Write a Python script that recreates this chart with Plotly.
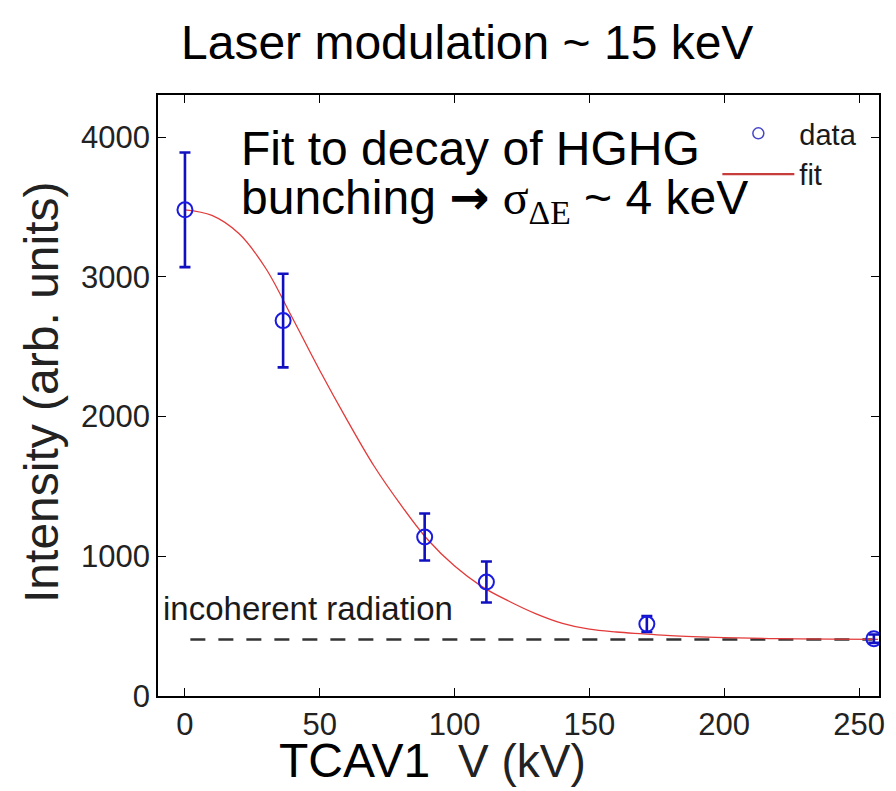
import plotly.graph_objects as go

# ---- data ----
tcav_kv = [0, 36.4, 88.9, 111.8, 171.3, 255.5]
intensity = [3480, 2687, 1138, 816, 515, 410]
intensity_err = [410, 335, 168, 147, 57, 30]

fit_x = [0, 10, 20, 30, 40, 50, 60, 70, 80, 90, 100, 110, 120, 130, 140, 150,
         160, 170, 180, 200, 220, 240, 257]
fit_y = [3480, 3440, 3310, 3060, 2700, 2330, 1980, 1650, 1370, 1120, 930, 785,
         680, 590, 520, 478, 458, 445, 432, 418, 410, 407, 405]

incoherent_x = [2, 255]
incoherent_y = [405, 405]

x_ticks = [0, 50, 100, 150, 200, 250]
y_ticks = [0, 1000, 2000, 3000, 4000]

# ---- layout helpers (pixel -> paper) ----
L, R, T, B = 158, 885, 95, 696
W, H = 896, 791
def px(x):
    return (x - L) / (R - L)
def py(y):
    return (B - y) / (B - T)

SANS = "Liberation Sans, Arial, sans-serif"

fig = go.Figure()

fig.add_trace(go.Scatter(
    x=incoherent_x, y=incoherent_y, mode="lines",
    line=dict(color="#333333", width=2.5, dash="15px,13px"),
    showlegend=False, hoverinfo="skip"))

fig.add_trace(go.Scatter(
    x=fit_x, y=fit_y, mode="lines", name="fit",
    line=dict(color="#e23a3a", width=1.3, shape="spline", smoothing=1.0),
    showlegend=False))

fig.add_trace(go.Scatter(
    x=tcav_kv, y=intensity, mode="markers", name="data",
    marker=dict(symbol="circle-open", size=15, color="#1a1ae0",
                line=dict(width=2, color="#1a1ae0")),
    error_y=dict(type="data", array=intensity_err, visible=True,
                 color="#1010c0", thickness=2.6, width=5.5),
    showlegend=False))

# legend-only entries
fig.add_trace(go.Scatter(
    x=[None], y=[None], mode="markers", name="data",
    marker=dict(symbol="circle-open", size=11, color="#4646c8",
                line=dict(width=1.5, color="#4646c8"))))
fig.add_trace(go.Scatter(
    x=[None], y=[None], mode="lines", name="fit",
    line=dict(color="#c83c3c", width=2.2)))

annotations = [
    dict(text="Laser modulation ~ 15 keV", x=px(470), y=py(42),
         xref="paper", yref="paper", xanchor="center", yanchor="middle",
         font=dict(size=48, color="black", family=SANS), showarrow=False),
    dict(text="Fit to decay of HGHG", x=px(240), y=py(148),
         xref="paper", yref="paper", xanchor="left", yanchor="middle",
         font=dict(size=48, color="black", family=SANS), showarrow=False),
    dict(text="bunching <span style='font-family:DejaVu Sans;font-weight:bold'>\u2192</span> "
              "<span style='font-family:Liberation Serif'>\u03c3<sub>\u0394E</sub></span> ~ 4 keV",
         x=px(240), y=py(200),
         xref="paper", yref="paper", xanchor="left", yanchor="middle",
         font=dict(size=48, color="black", family=SANS), showarrow=False),
    dict(text="incoherent radiation", x=px(161), y=py(608),
         xref="paper", yref="paper", xanchor="left", yanchor="middle",
         font=dict(size=33, color="#1a1a1a", family=SANS), showarrow=False),
    dict(text="TCAV1", x=px(356), y=py(761),
         xref="paper", yref="paper", xanchor="center", yanchor="middle",
         font=dict(size=48, color="black", family=SANS), showarrow=False),
    dict(text="V (kV)", x=px(525), y=py(761),
         xref="paper", yref="paper", xanchor="center", yanchor="middle",
         font=dict(size=46, color="#222222", family=SANS), showarrow=False),
    dict(text="Intensity (arb. units)", x=px(40), y=py(392), textangle=-90,
         xref="paper", yref="paper", xanchor="center", yanchor="middle",
         font=dict(size=48, color="#222222", family=SANS), showarrow=False),
]

axis_common = dict(
    showgrid=False, zeroline=False, showline=True, linecolor="black",
    linewidth=1.5, mirror="ticks", ticks="inside", ticklen=8, tickwidth=1.3,
    tickcolor="black", tickfont=dict(size=31, color="#222222", family=SANS),
)

fig.update_layout(
    width=W, height=H,
    margin=dict(l=L, r=W - R, t=T, b=H - B),
    paper_bgcolor="white", plot_bgcolor="white",
    xaxis=dict(range=[-10, 257.4], tickvals=x_ticks, **axis_common),
    yaxis=dict(range=[0, 4302], tickvals=y_ticks, **axis_common),
    legend=dict(x=px(722), y=py(108), xanchor="left", yanchor="top",
                bgcolor="rgba(0,0,0,0)", itemwidth=72, tracegroupgap=0,
                font=dict(size=29, color="#1a1a1a", family=SANS)),
    annotations=annotations,
)

fig.write_html("out.html")
